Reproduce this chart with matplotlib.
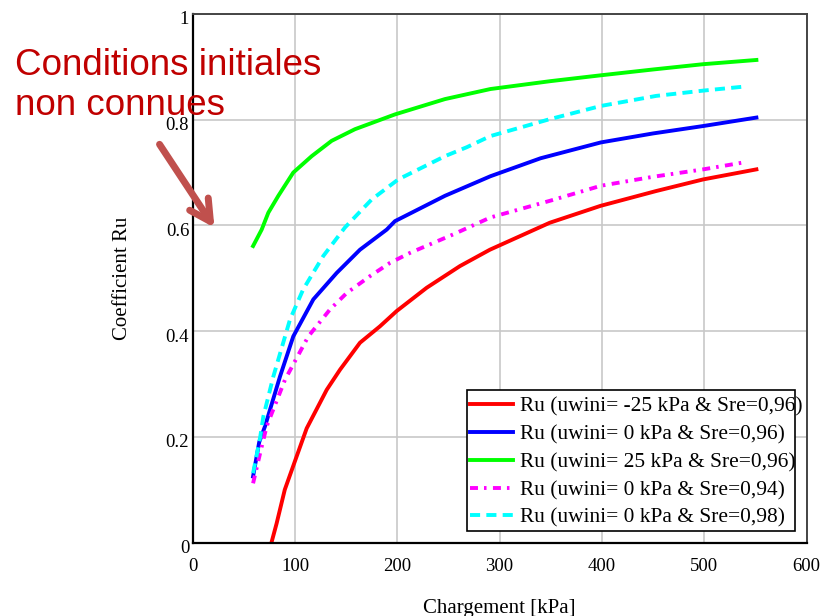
import matplotlib.pyplot as plt
import matplotlib.transforms as mtransforms
from matplotlib.patches import Rectangle

# Ru en fonction du chargement, 5 cas
red_x = [77, 82, 90, 101.6, 111.4, 131, 144, 163.5, 183, 199.4, 228.7, 261.2, 290.5, 349, 398.7, 453, 499, 551]
red_y = [0, 0.036, 0.1, 0.163, 0.216, 0.289, 0.327, 0.378, 0.409, 0.438, 0.482, 0.523, 0.554, 0.605, 0.637, 0.665, 0.687, 0.706]

blue_x = [59, 65, 70.7, 85.3, 98.3, 117.9, 140.7, 163.5, 189.6, 197.7, 246.6, 291, 340, 399, 450, 499, 551]
blue_y = [0.125, 0.19, 0.22, 0.314, 0.39, 0.46, 0.51, 0.554, 0.592, 0.608, 0.656, 0.693, 0.727, 0.757, 0.774, 0.788, 0.804]

green_x = [59, 67.4, 73.9, 83.7, 98.3, 116.3, 135.8, 158.6, 197.7, 246.6, 291, 350, 399, 450, 499, 551]
green_y = [0.561, 0.592, 0.624, 0.656, 0.7, 0.731, 0.76, 0.782, 0.81, 0.839, 0.858, 0.873, 0.884, 0.895, 0.905, 0.913]

mag_x = [59, 66, 72.3, 90.2, 113, 134.2, 150.5, 173.3, 192.8, 212.4, 254.7, 291, 350, 399, 450, 499, 541]
mag_y = [0.112, 0.17, 0.22, 0.308, 0.39, 0.441, 0.472, 0.504, 0.529, 0.548, 0.583, 0.615, 0.647, 0.675, 0.692, 0.706, 0.72]

cyan_x = [59, 66, 69, 78.8, 95.1, 108, 127.6, 148.8, 174.9, 200.9, 246.6, 268, 291, 349, 399, 453, 499, 541]
cyan_y = [0.131, 0.2, 0.238, 0.314, 0.422, 0.479, 0.542, 0.596, 0.649, 0.687, 0.731, 0.748, 0.769, 0.801, 0.826, 0.845, 0.855, 0.863]

labels = ['Ru (uwini= -25 kPa & Sre=0,96)',
          'Ru (uwini= 0 kPa & Sre=0,96)',
          'Ru (uwini= 25 kPa & Sre=0,96)',
          'Ru (uwini= 0 kPa & Sre=0,94)',
          'Ru (uwini= 0 kPa & Sre=0,98)']

x_ticks = [0, 100, 200, 300, 400, 500, 600]
y_ticks = [0, 0.2, 0.4, 0.6, 0.8, 1]
y_ticklabels = ['0', '0.2', '0.4', '0.6', '0.8', '1']

serif = 'Liberation Serif'
W, H = 825, 616

fig = plt.figure(figsize=(W / 100, H / 100), dpi=100)
ax = fig.add_axes([0.2336, 0.1193, 0.7440, 0.858])

lw = 2.8
ax.plot(red_x, red_y, color='#ff0000', lw=lw, label=labels[0])
ax.plot(blue_x, blue_y, color='#0000ff', lw=lw, label=labels[1])
ax.plot(green_x, green_y, color='#00ff00', lw=lw, label=labels[2])
ax.plot(mag_x, mag_y, color='#ff00ff', lw=lw, dashes=(2.05, 1.55, 0.65, 1.65), label=labels[3])
ax.plot(cyan_x, cyan_y, color='#00ffff', lw=lw, dashes=(2.6, 1.6), label=labels[4])

ax.set_xlim(0, 600)
ax.set_ylim(0, 1)
ax.set_xticks(x_ticks)
ax.set_xticklabels([str(t) for t in x_ticks], fontfamily=serif, fontsize=13.5)
ax.set_yticks(y_ticks)
ax.set_yticklabels(y_ticklabels, fontfamily=serif, fontsize=13.5)
ax.tick_params(length=0)
ax.tick_params(axis='x', pad=11)
ax.tick_params(axis='y', pad=2.5)
# libellés de l'axe y légèrement sous la grille
shift = mtransforms.ScaledTranslation(0, -4 / 100, fig.dpi_scale_trans)
for lab in ax.get_yticklabels():
    lab.set_transform(lab.get_transform() + shift)

ax.grid(True, color='#c8c8c8', lw=1.2)
ax.set_axisbelow(True)

for s in ['left', 'bottom']:
    ax.spines[s].set_linewidth(1.6)
    ax.spines[s].set_color('black')
for s in ['top', 'right']:
    ax.spines[s].set_linewidth(1.4)
    ax.spines[s].set_color('#444444')

ax.set_xlabel('Chargement [kPa]', fontfamily=serif, fontsize=15)
ax.set_ylabel('Coefficient Ru', fontfamily=serif, fontsize=15)
ax.xaxis.set_label_coords(0.5, -0.107)
ax.yaxis.set_label_coords(-0.0993, 0.5)

# légende sans cadre + cadre séparé (le texte déborde un peu)
leg = ax.legend(loc='upper left', bbox_to_anchor=(470 / W, 1 - 397 / H),
                bbox_transform=fig.transFigure,
                prop={'family': serif, 'size': 15.4}, frameon=False,
                borderpad=0, labelspacing=0.36, handlelength=2.0,
                handletextpad=0.33, borderaxespad=0)
box = Rectangle((467 / W, 1 - 531 / H), 328 / W, 141 / H,
                transform=fig.transFigure, facecolor='white',
                edgecolor='black', lw=1.2, zorder=4.9, clip_on=False)
ax.add_patch(box)

# annotation en rouge avec flèche
fig.text(15 / W, 1 - 48 / H, 'Conditions initiales\nnon connues',
         color='#c00000', fontfamily='Liberation Sans', fontsize=26.5,
         linespacing=1.17, va='top', ha='left')
ax.annotate('', xy=(216 / W, 1 - 230 / H), xycoords='figure fraction',
            xytext=(158 / W, 1 - 142 / H), textcoords='figure fraction',
            arrowprops=dict(arrowstyle='->,head_length=1.5,head_width=0.8',
                            color='#c0504d', lw=5))

fig.savefig('out.png', dpi=100)
